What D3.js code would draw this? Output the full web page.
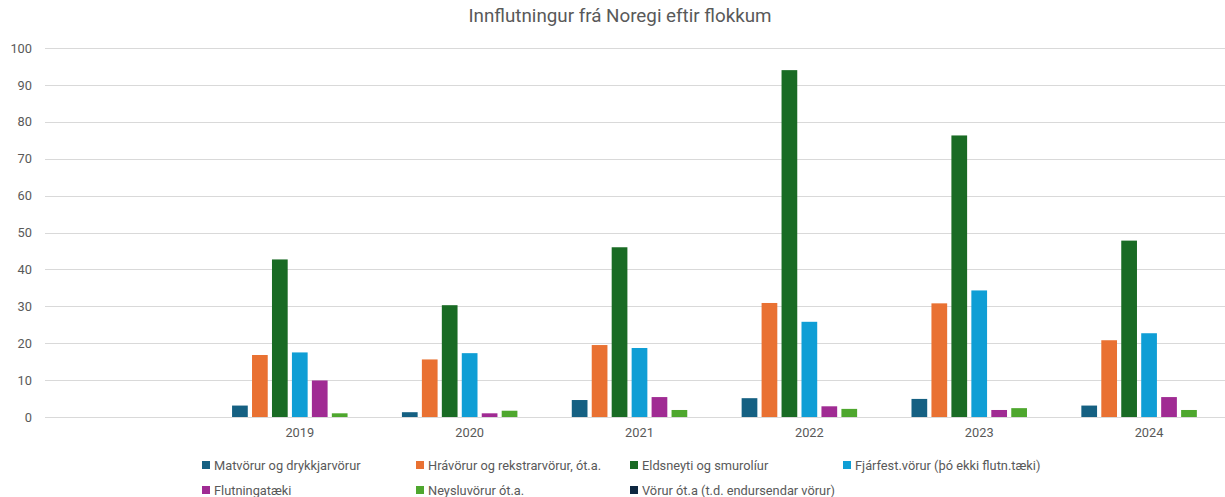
<!DOCTYPE html>
<html>
<head>
<meta charset="utf-8">
<script src="https://cdn.jsdelivr.net/npm/d3@7"></script>
<style>
  body { margin: 0; padding: 0; background: #fff; }
  svg text { font-family: Roboto, "Open Sans", sans-serif; fill: #595959; }
</style>
</head>
<body>
<div id="chart"></div>
<script>
// data
const years = ['', '2019', '2020', '2021', '2022', '2023', '2024'];
const seriesNames = [
  'Matvörur og drykkjarvörur',
  'Hrávörur og rekstrarvörur, ót.a.',
  'Eldsneyti og smurolíur',
  'Fjárfest.vörur (þó ekki flutn.tæki)',
  'Flutningatæki',
  'Neysluvörur ót.a.',
  'Vörur ót.a (t.d. endursendar vörur)'
];
const matvorur = [0, 3.1, 1.3, 4.6, 5.1, 4.9, 3.1];
const hravorur = [0, 16.8, 15.6, 19.5, 30.9, 30.8, 20.8];
const eldsneyti = [0, 42.7, 30.3, 46.0, 94.0, 76.3, 47.8];
const fjarfest = [0, 17.5, 17.3, 18.7, 25.8, 34.3, 22.7];
const flutningataeki = [0, 9.9, 1.0, 5.4, 2.9, 1.9, 5.4];
const neysluvorur = [0, 1.0, 1.7, 1.9, 2.2, 2.4, 1.9];
const vorurOta = [0, 0, 0, 0, 0, 0, 0];
const yTicks = [0, 10, 20, 30, 40, 50, 60, 70, 80, 90, 100];
const colors = ['#156082', '#e97132', '#196b24', '#0f9ed5', '#a02b93', '#4ea72e', '#0e2841'];

const allSeries = [matvorur, hravorur, eldsneyti, fjarfest, flutningataeki, neysluvorur, vorurOta];

const width = 1225, height = 497;
const plotLeft = 45, plotRight = 1234, plotTop = 48, plotBottom = 417;

const svg = d3.select('#chart').append('svg')
  .attr('width', width).attr('height', height);

svg.append('text')
  .attr('x', 620).attr('y', 17)
  .attr('text-anchor', 'middle').attr('dominant-baseline', 'middle')
  .style('font-size', '18.8px')
  .text('Innflutningur frá Noregi eftir flokkum');

const x = d3.scaleBand().domain(years).range([plotLeft, plotRight]).padding(0);
const y = d3.scaleLinear().domain([0, 100]).range([plotBottom, plotTop]);

// excel-like clustered column: gap width 219%, overlap -27%
const inner = 0.27 / 1.27;
const outer = (2.19 / 1.27) / 2;
const x1 = d3.scaleBand().domain(d3.range(seriesNames.length))
  .range([0, x.bandwidth()]).paddingInner(inner).paddingOuter(outer);

// gridlines
svg.append('g').selectAll('line').data(yTicks).join('line')
  .attr('x1', plotLeft).attr('x2', plotRight)
  .attr('y1', d => Math.round(y(d)) + 0.5).attr('y2', d => Math.round(y(d)) + 0.5)
  .attr('stroke', '#d9d9d9').attr('stroke-width', 1.2);

const yAxis = svg.append('g').attr('transform', 'translate(32,0)')
  .call(d3.axisLeft(y).tickValues(yTicks).tickSize(0).tickPadding(0));
yAxis.select('.domain').remove();
yAxis.selectAll('text').style('font-size', '12.8px').attr('fill', '#595959')
  .style('font-family', 'Roboto, sans-serif');

const xAxis = svg.append('g').attr('transform', `translate(0,${plotBottom})`)
  .call(d3.axisBottom(x).tickSize(0).tickPadding(11));
xAxis.select('.domain').remove();
xAxis.selectAll('text').style('font-size', '12.8px').attr('fill', '#595959')
  .style('font-family', 'Roboto, sans-serif');

// bars
const groups = svg.append('g').selectAll('g').data(years).join('g')
  .attr('transform', d => `translate(${x(d)},0)`);
groups.selectAll('rect')
  .data((d, i) => allSeries.map((s, k) => ({ k: k, v: s[i] })))
  .join('rect')
  .attr('x', d => x1(d.k))
  .attr('width', x1.bandwidth())
  .attr('y', d => y(d.v))
  .attr('height', d => y(0) - y(d.v))
  .attr('fill', d => colors[d.k]);

// legend
const legendCols = [202, 416, 630, 843];
const legendRows = [465, 490];
const legend = svg.append('g').selectAll('g').data(seriesNames).join('g')
  .attr('transform', (d, i) => `translate(${legendCols[i % 4]},${legendRows[Math.floor(i / 4)]})`);
legend.append('rect')
  .attr('x', 0).attr('y', -4).attr('width', 8).attr('height', 8)
  .attr('fill', (d, i) => colors[i]);
legend.append('text')
  .attr('x', 12).attr('y', 0).attr('dominant-baseline', 'central')
  .style('font-size', '12.8px')
  .text(d => d);
</script>
</body>
</html>
